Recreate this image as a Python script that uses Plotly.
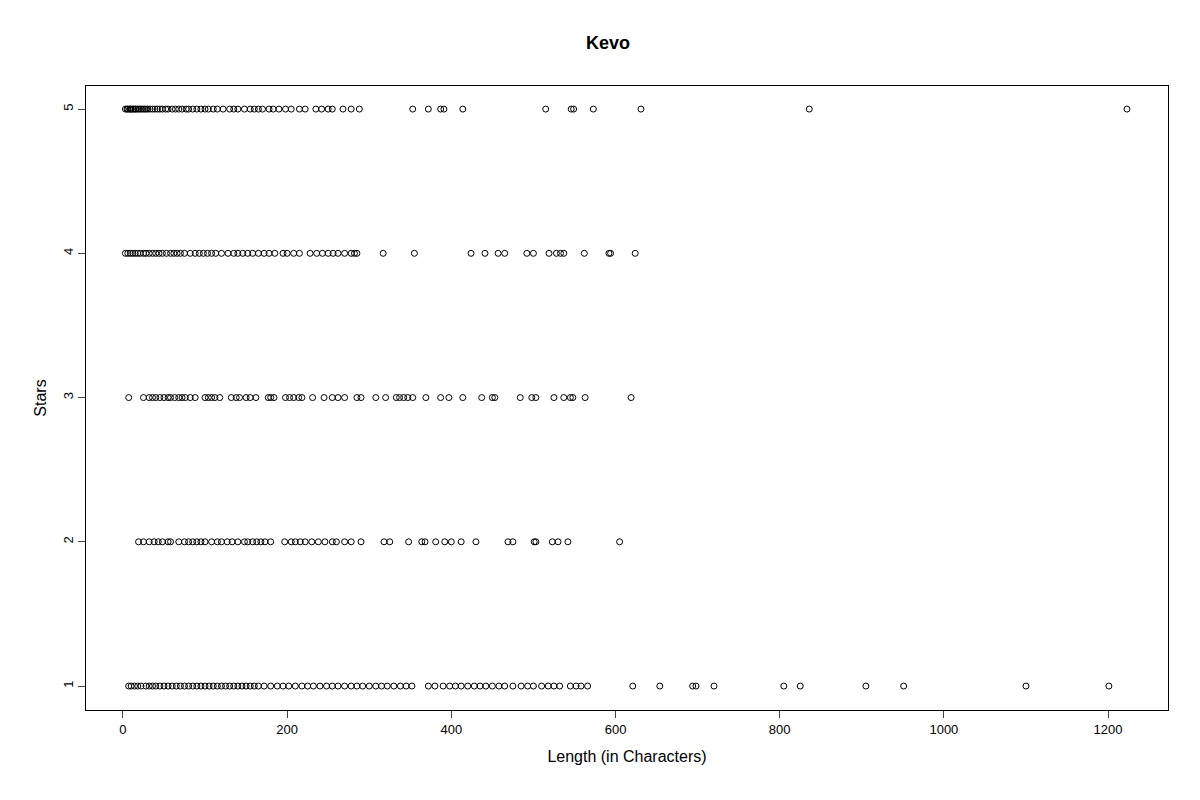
import plotly.graph_objects as go

# review length (characters) per star rating
len_5 = [3, 5, 6, 8, 9, 10, 12, 13, 15, 16, 18, 20, 22, 24, 26, 28, 30, 33, 36, 39, 42, 45, 48, 52, 55, 60,
         64, 68, 72, 77, 80, 85, 90, 95, 100, 104, 110, 115, 122, 130, 135, 140, 148, 155, 160, 165, 170,
         178, 183, 190, 198, 205, 215, 222, 235, 242, 250, 255, 268, 278, 288,
         353, 372, 387, 391, 414, 515, 546, 549, 573, 631, 836, 1223]
len_4 = [3, 6, 9, 12, 15, 18, 21, 25, 28, 32, 36, 40, 44, 48, 53, 58, 62, 66, 70, 75, 82, 88, 93, 98,
         103, 108, 113, 120, 128, 135, 140, 146, 152, 158, 165, 172, 178, 185, 195, 200, 208, 215,
         228, 236, 243, 250, 256, 262, 270, 278, 282, 285,
         317, 355, 424, 441, 457, 465, 492, 500, 519, 528, 533, 537, 562, 592, 594, 624]
len_3 = [7, 25, 32, 36, 40, 45, 50, 55, 58, 63, 68, 72, 76, 82, 88, 100, 104, 108, 112, 118, 132, 138,
         142, 150, 155, 162, 177, 180, 184, 198, 203, 208, 214, 218, 231, 245, 255, 262, 270, 285, 290,
         308, 320, 333, 337, 342, 347, 353, 369, 387, 397, 414, 437, 450, 453, 484, 498, 503, 525, 537,
         545, 548, 563, 619]
len_2 = [19, 25, 32, 38, 43, 48, 55, 58, 68, 75, 80, 85, 90, 95, 100, 108, 115, 120, 127, 133, 140, 148,
         152, 158, 163, 168, 173, 180, 197, 205, 210, 216, 222, 230, 238, 246, 255, 260, 270, 278, 290,
         318, 325, 348, 364, 368, 381, 392, 400, 412, 430, 469, 475, 501, 503, 523, 530, 542, 605]
len_1 = [7, 10, 14, 18, 22, 28, 32, 36, 40, 45, 50, 55, 60, 65, 70, 75, 80, 85, 90, 95, 100, 105, 110,
         115, 120, 125, 130, 135, 140, 145, 150, 155, 160, 165, 172, 180, 188, 195, 202, 210, 218, 225,
         232, 240, 248, 255, 262, 270, 278, 285, 292, 300, 308, 315, 322, 330, 338, 345, 352, 372, 380,
         390, 398, 405, 412, 420, 428, 435, 442, 450, 458, 465, 475, 485, 493, 500, 510, 518, 525, 532,
         545, 552, 558, 566,
         621, 654, 694, 698, 720, 805, 825, 905, 951, 1100, 1201]

groups = [(5, len_5), (4, len_4), (3, len_3), (2, len_2), (1, len_1)]

fig = go.Figure()
for stars, vals in groups:
    fig.add_trace(go.Scatter(x=vals, y=[stars] * len(vals), mode='markers',
                             marker=dict(symbol='circle-open', color='black', size=6,
                                         line=dict(width=1, color='black')),
                             showlegend=False))

fig.update_layout(
    width=1200, height=800, plot_bgcolor='white', paper_bgcolor='white',
    margin=dict(l=78, r=40, t=78, b=98),
    font=dict(family='Liberation Sans, Arial', size=13, color='black'),
    title=dict(text='<b>Kevo</b>', x=0.5, xanchor='center', y=0.965, font=dict(size=18)),
)
fig.update_xaxes(range=[-45, 1273], tickvals=[0, 200, 400, 600, 800, 1000, 1200],
                 ticks='outside', ticklen=7, showgrid=False, zeroline=False, automargin=False,
                 showline=True, mirror=True, linecolor='black',
                 title=dict(text='Length (in Characters)', standoff=15))
fig.update_yaxes(range=[0.834, 5.16], tickvals=[1, 2, 3, 4, 5], tickangle=-90,
                 ticks='outside', ticklen=7, showgrid=False, zeroline=False, automargin=False,
                 showline=True, mirror=True, linecolor='black',
                 title=dict(text='Stars', standoff=10))

fig.write_html("out.html")
